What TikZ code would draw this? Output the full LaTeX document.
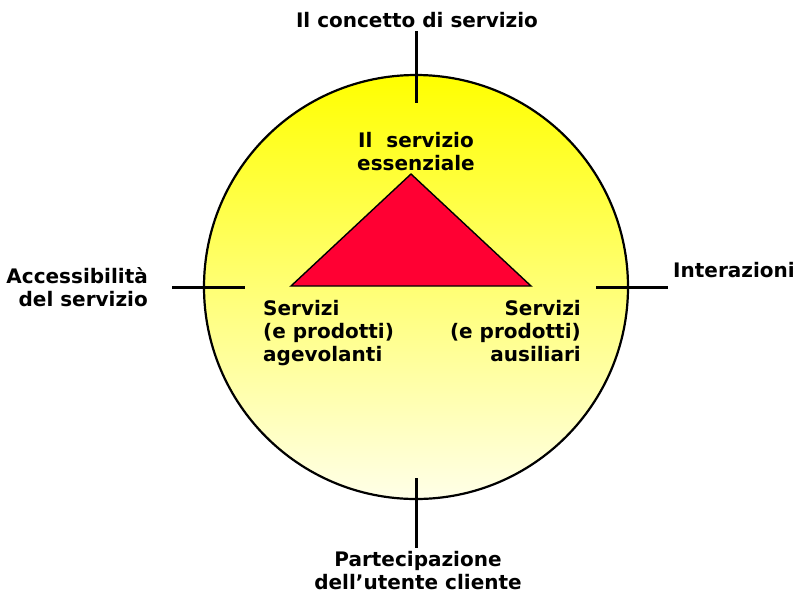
\documentclass[tikz,border=0pt]{standalone}
\usepackage{fontspec}
\setmainfont{DejaVu Sans}
\usepackage{tikz}
\usetikzlibrary{positioning}
\definecolor{giallo}{RGB}{255,255,0}
\definecolor{crema}{RGB}{255,255,232}
\definecolor{rosso}{RGB}{255,0,51}
\tikzset{
  etichetta/.style={font=\fontsize{20}{23}\selectfont\bfseries, inner sep=0pt},
  tacca/.style={line width=3pt},
}
\begin{document}
\begin{tikzpicture}[x=1pt,y=-1pt]
\useasboundingbox (0,0) rectangle (797,595);

% cerchio con sfumatura
\node[circle, draw, line width=2.2pt, minimum size=424pt, inner sep=0pt,
  top color=giallo, bottom color=crema] (cerchio) at (416,287) {};

% triangolo
\coordinate (apice) at (411,174);
\coordinate (basesx) at (291,286);
\coordinate (basedx) at (531,286);
\draw[fill=rosso, line width=1.4pt, line join=miter] (apice) -- (basesx) -- (basedx) -- cycle;

% tacche
\coordinate (su1) at (416,31);
\coordinate (su2) at (416,103);
\coordinate (sx1) at (172,287);
\coordinate (sx2) at (245,287);
\coordinate (dx1) at (596,287);
\coordinate (dx2) at (668,287);
\coordinate (giu1) at (416,478);
\coordinate (giu2) at (416,548);
\draw[tacca] (su1) -- (su2);
\draw[tacca] (sx1) -- (sx2);
\draw[tacca] (dx1) -- (dx2);
\draw[tacca] (giu1) -- (giu2);

% etichette esterne
\node[etichetta] (concetto) at (417,20) {Il concetto di servizio};
\node[etichetta, align=right, anchor=east] (accesso) at (148,287) {Accessibilità\\del servizio};
\node[etichetta, anchor=west] (interazioni) at (673,270) {Interazioni};
\node[etichetta, align=center] (partecipazione) at (418,571) {Partecipazione\\dell’utente cliente};

% etichette interne
\node[etichetta, align=center] (essenziale) at (416,152) {Il\ \ servizio\\essenziale};
\node[etichetta, align=left, anchor=north west] (agevolanti) at (263,300) {Servizi\\(e prodotti)\\agevolanti};
\node[etichetta, align=right, anchor=north east] (ausiliari) at (581,300) {Servizi\\(e prodotti)\\ausiliari};
\end{tikzpicture}
\end{document}
